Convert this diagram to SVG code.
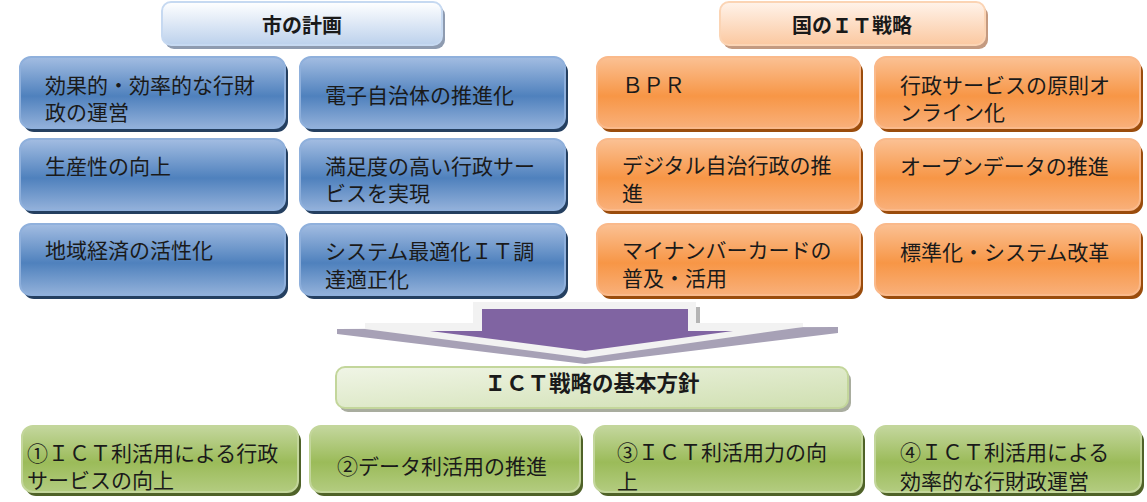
<svg xmlns="http://www.w3.org/2000/svg" width="1147" height="502" viewBox="0 0 1147 502">
<defs>
<linearGradient id="gBlue" x1="0" y1="0" x2="0" y2="1">
<stop offset="0" stop-color="#a3bde2"/><stop offset="0.55" stop-color="#4f81bd"/><stop offset="1" stop-color="#93b1da"/>
</linearGradient>
<linearGradient id="gOrange" x1="0" y1="0" x2="0" y2="1">
<stop offset="0" stop-color="#fbc194"/><stop offset="0.55" stop-color="#f79646"/><stop offset="1" stop-color="#f9b07a"/>
</linearGradient>
<linearGradient id="gGreen" x1="0" y1="0" x2="0" y2="1">
<stop offset="0" stop-color="#c4d79e"/><stop offset="0.55" stop-color="#9bbb59"/><stop offset="1" stop-color="#b3cc80"/>
</linearGradient>
<linearGradient id="gHBlue" x1="0" y1="0" x2="0" y2="1">
<stop offset="0" stop-color="#ffffff"/><stop offset="1" stop-color="#bcd1ec"/>
</linearGradient>
<linearGradient id="gHOrange" x1="0" y1="0" x2="0" y2="1">
<stop offset="0" stop-color="#fff3ea"/><stop offset="1" stop-color="#fbc8a0"/>
</linearGradient>
<linearGradient id="gHGreen" x1="0" y1="0" x2="1" y2="1">
<stop offset="0" stop-color="#f0f5e6"/><stop offset="1" stop-color="#cfdfb0"/>
</linearGradient>
</defs>
<style>
text{font-family:"Noto Sans CJK JP","Noto Sans",sans-serif;font-size:21px;fill:#1a1a1a}
.hd{font-size:20px;font-weight:bold;text-anchor:middle}
.hd2{font-size:21.5px;font-weight:bold;text-anchor:middle}
.mid{text-anchor:middle}
.blue{fill:url(#gBlue);stroke:#8fb0dc;stroke-width:2}
.blueS{fill:#243f60}
.orange{fill:url(#gOrange);stroke:#fab98a;stroke-width:2}
.orangeS{fill:#9a4c0c}
.green{fill:url(#gGreen);stroke:#c3d69b;stroke-width:2}
.greenS{fill:#4f6228}
.hblue{fill:url(#gHBlue);stroke:#c6d9f1;stroke-width:2}
.hblueS{fill:#8e9bb0}
.horange{fill:url(#gHOrange);stroke:#fbd4b4;stroke-width:2}
.horangeS{fill:#c49a80}
.hgreen{fill:url(#gHGreen);stroke:#c3d69b;stroke-width:2}
.hgreenS{fill:#a9ad9f}
</style>

<g id="hdr-city">
<rect class="hblueS" x="165" y="6" width="280" height="43" rx="9"/>
<rect class="hblue" x="162" y="2" width="280" height="43" rx="9"/>
<text class="hd" x="302" y="33">市の計画</text>
</g>
<g id="hdr-nation">
<rect class="horangeS" x="723" y="6" width="265" height="43" rx="9"/>
<rect class="horange" x="720" y="2" width="265" height="43" rx="9"/>
<text class="hd" x="852" y="33">国のＩＴ戦略</text>
</g>

<g id="city-1">
<rect class="blueS" x="23" y="61" width="265" height="71" rx="11"/>
<rect class="blue" x="20" y="57" width="265" height="71" rx="11"/>
<text x="45" y="93">効果的・効率的な行財</text><text x="45" y="120">政の運営</text>
</g>
<g id="city-2">
<rect class="blueS" x="303" y="61" width="265" height="71" rx="11"/>
<rect class="blue" x="300" y="57" width="265" height="71" rx="11"/>
<text x="325" y="103">電子自治体の推進化</text>
</g>
<g id="city-3">
<rect class="blueS" x="23" y="143" width="265" height="71" rx="11"/>
<rect class="blue" x="20" y="139" width="265" height="71" rx="11"/>
<text x="45" y="174">生産性の向上</text>
</g>
<g id="city-4">
<rect class="blueS" x="303" y="143" width="265" height="71" rx="11"/>
<rect class="blue" x="300" y="139" width="265" height="71" rx="11"/>
<text x="325" y="174">満足度の高い行政サー</text><text x="325" y="201">ビスを実現</text>
</g>
<g id="city-5">
<rect class="blueS" x="23" y="228" width="265" height="71" rx="11"/>
<rect class="blue" x="20" y="224" width="265" height="71" rx="11"/>
<text x="45" y="258">地域経済の活性化</text>
</g>
<g id="city-6">
<rect class="blueS" x="303" y="228" width="265" height="71" rx="11"/>
<rect class="blue" x="300" y="224" width="265" height="71" rx="11"/>
<text x="325" y="259">システム最適化ＩＴ調</text><text x="325" y="287">達適正化</text>
</g>

<g id="nat-1">
<rect class="orangeS" x="600" y="61" width="263" height="71" rx="11"/>
<rect class="orange" x="597" y="57" width="263" height="71" rx="11"/>
<text x="622" y="93">ＢＰＲ</text>
</g>
<g id="nat-2">
<rect class="orangeS" x="878" y="61" width="265" height="71" rx="11"/>
<rect class="orange" x="875" y="57" width="265" height="71" rx="11"/>
<text x="900" y="93">行政サービスの原則オ</text><text x="900" y="120">ンライン化</text>
</g>
<g id="nat-3">
<rect class="orangeS" x="600" y="143" width="263" height="71" rx="11"/>
<rect class="orange" x="597" y="139" width="263" height="71" rx="11"/>
<text x="622" y="173">デジタル自治行政の推</text><text x="622" y="201">進</text>
</g>
<g id="nat-4">
<rect class="orangeS" x="878" y="143" width="265" height="71" rx="11"/>
<rect class="orange" x="875" y="139" width="265" height="71" rx="11"/>
<text x="900" y="174">オープンデータの推進</text>
</g>
<g id="nat-5">
<rect class="orangeS" x="600" y="228" width="263" height="71" rx="11"/>
<rect class="orange" x="597" y="224" width="263" height="71" rx="11"/>
<text x="622" y="258">マイナンバーカードの</text><text x="622" y="286">普及・活用</text>
</g>
<g id="nat-6">
<rect class="orangeS" x="878" y="228" width="265" height="71" rx="11"/>
<rect class="orange" x="875" y="224" width="265" height="71" rx="11"/>
<text x="900" y="260">標準化・システム改革</text>
</g>

<g id="connectors">
<polygon points="337,329 838,327 838,333 585,364 337,334" fill="#a7a1b6"/>
<rect x="696" y="307" width="4" height="17" fill="#b4b4b4"/>
<polygon points="473,302 696,302 696,323 803,323 803,327 585,358 365,329 365,323 473,323" fill="#f2f2f2"/>
<polygon points="482,309 688,309 688,331 733,331 585,351 430,331 482,331" fill="#8064a2"/>
</g>

<g id="policy-hdr">
<rect class="hgreenS" x="339" y="371" width="512" height="41" rx="9"/>
<rect class="hgreen" x="336" y="367" width="512" height="41" rx="9"/>
<text class="hd2" x="592" y="391">ＩＣＴ戦略の基本方針</text>
</g>

<g id="policy-1">
<rect class="greenS" x="25" y="430" width="276" height="66" rx="11"/>
<rect class="green" x="22" y="426" width="276" height="66" rx="11"/>
<text x="27" y="461">①ＩＣＴ利活用による行政</text><text x="27" y="488">サービスの向上</text>
</g>
<g id="policy-2">
<rect class="greenS" x="313" y="430" width="270" height="66" rx="11"/>
<rect class="green" x="310" y="426" width="270" height="66" rx="11"/>
<text class="mid" x="442" y="474">②データ利活用の推進</text>
</g>
<g id="policy-3">
<rect class="greenS" x="597" y="430" width="268" height="66" rx="11"/>
<rect class="green" x="594" y="426" width="268" height="66" rx="11"/>
<text x="617" y="460">③ＩＣＴ利活用力の向</text><text x="617" y="489">上</text>
</g>
<g id="policy-4">
<rect class="greenS" x="878" y="430" width="266" height="66" rx="11"/>
<rect class="green" x="875" y="426" width="266" height="66" rx="11"/>
<text x="900" y="460">④ＩＣＴ利活用による</text><text x="900" y="489">効率的な行財政運営</text>
</g>
</svg>
